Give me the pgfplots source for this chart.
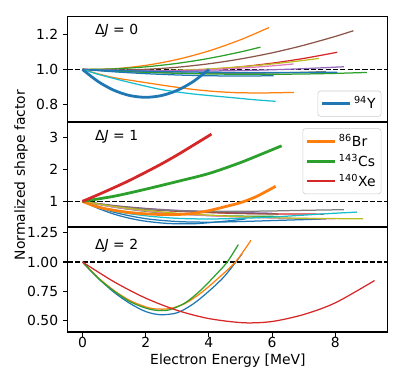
\documentclass[border=0pt]{standalone}
\usepackage{pgfplots}
\pgfplotsset{compat=1.18}
\usepackage{fontspec}
\setmainfont{DejaVu Sans}

\definecolor{tblue}{HTML}{1F77B4}
\definecolor{torange}{HTML}{FF7F0E}
\definecolor{tgreen}{HTML}{2CA02C}
\definecolor{tred}{HTML}{D62728}
\definecolor{tpurple}{HTML}{9467BD}
\definecolor{tbrown}{HTML}{8C564B}
\definecolor{tpink}{HTML}{E377C2}
\definecolor{tgray}{HTML}{7F7F7F}
\definecolor{tolive}{HTML}{BCBD22}
\definecolor{tcyan}{HTML}{17BECF}

\pgfplotsset{
  panel/.style={
    scale only axis, width=230.3pt, height=75.6pt,
    xmin=-0.46, xmax=9.66,
    axis line style={line width=0.8pt},
    tick align=outside, tick pos=left, major tick length=3.5pt,
    every tick/.style={black, line width=0.8pt},
    /pgf/number format/assume math mode=true,
    tick label style={font=\fontsize{10}{12}\selectfont},
    label style={font=\fontsize{10}{12}\selectfont},
    legend style={draw=black!20, rounded corners=2pt, fill=white, fill opacity=0.8,
      text opacity=1, font=\fontsize{10}{12}\selectfont, inner sep=2pt},
    legend cell align=left,
    legend image code/.code={\draw[##1, line width=2pt] (0pt,0pt) -- (20pt,0pt);},
  },
  dashone/.style={black, dash pattern=on 3.7pt off 1.6pt, line width=0.75pt, forget plot},
  thinline/.style={smooth, line width=0.9pt, forget plot},
  thickline/.style={smooth, line width=2pt},
}

\begin{document}
\begin{tikzpicture}
\path[use as bounding box] (-48.9pt,-29.5pt) rectangle (244.1pt,239pt);

% Delta J = 2 (bottom)
\begin{axis}[panel, at={(0,0)},
  ymin=0.40, ymax=1.30,
  ytick={0.5,0.75,1.0,1.25},
  yticklabel style={/pgf/number format/.cd, fixed, fixed zerofill, precision=2},
  xtick={0,2,4,6,8},
  xticklabel style={yshift=3pt},
  xlabel={Electron Energy [MeV]},
  xlabel style={yshift=3pt},
]
\addplot[dashone] coordinates {(-0.46,1) (9.66,1)};
\addplot[thinline, tblue] coordinates {(0,1) (0.5,0.86) (1,0.74) (1.5,0.645) (2,0.575) (2.47,0.548) (3,0.565) (3.5,0.64) (4,0.75) (4.5,0.88) (5.05,1.07)};
\addplot[thinline, torange] coordinates {(0,1) (0.5,0.865) (1,0.755) (1.5,0.67) (2,0.615) (2.3,0.598) (2.75,0.60) (3.25,0.645) (3.75,0.735) (4.25,0.85) (4.84,1.0) (5.33,1.186)};
\addplot[thinline, tgreen] coordinates {(0,1) (0.5,0.86) (1,0.75) (1.5,0.66) (2,0.605) (2.36,0.585) (2.75,0.59) (3.25,0.65) (3.75,0.76) (4.25,0.90) (4.58,1.0) (4.93,1.149)};
\addplot[thinline, tred] coordinates {(0,1) (1,0.83) (2,0.69) (3,0.585) (4,0.515) (5.1,0.479) (6,0.49) (7,0.55) (8,0.65) (9.24,0.841)};
\node[anchor=west, font=\fontsize{10}{12}\selectfont] at (rel axis cs:0.07,0.82) {Δ\textit{J} = 2};
\end{axis}

% Delta J = 1 (middle)
\begin{axis}[panel, at={(0,75.6pt)},
  ymin=0.2, ymax=3.48,
  ytick={1,2,3}, xtick=\empty,
  legend style={at={(0.98,0.94)}, anchor=north east},
]
\addplot[dashone] coordinates {(-0.46,1) (9.66,1)};
\addplot[thinline, tblue] coordinates {(0,1) (0.5,0.78) (1,0.6) (1.5,0.47) (2,0.38) (2.7,0.31) (3.5,0.30) (4.3,0.36) (5.16,0.45)};
\addplot[thinline, tblue] coordinates {(0,1) (1,0.66) (2,0.46) (3,0.37) (4,0.35) (5,0.37) (6,0.40) (7,0.43) (7.7,0.45)};
\addplot[thinline, tgreen] coordinates {(0,1) (1,0.82) (2,0.69) (3,0.61) (4,0.56) (5,0.54) (6.2,0.53)};
\addplot[thinline, tred] coordinates {(0,1) (1,0.85) (2,0.75) (3,0.69) (4,0.65) (5,0.62) (6,0.61) (7.64,0.60)};
\addplot[thinline, tpurple] coordinates {(0,1) (1,0.87) (2,0.78) (3,0.72) (4,0.68) (5,0.65) (6.0,0.63)};
\addplot[thinline, tbrown] coordinates {(0,1) (1,0.86) (2,0.77) (3,0.70) (4,0.66) (5,0.63) (6.2,0.60)};
\addplot[thinline, tpink] coordinates {(0,1) (1,0.82) (2,0.70) (3,0.61) (4,0.55) (5,0.51) (6,0.48) (7,0.465) (8,0.455)};
\addplot[thinline, tgray] coordinates {(0,1) (1,0.85) (2,0.76) (3,0.71) (4,0.69) (5,0.69) (6,0.70) (7,0.72) (8.27,0.74)};
\addplot[thinline, tolive] coordinates {(0,1) (1,0.84) (2,0.72) (3,0.63) (4,0.57) (5,0.52) (6,0.49) (7,0.47) (8.88,0.455)};
\addplot[thinline, tcyan] coordinates {(0,1) (1,0.70) (2,0.55) (3,0.47) (4,0.45) (5,0.47) (6,0.51) (7,0.57) (8,0.63) (8.69,0.665)};
\addplot[thickline, torange] coordinates {(0,1) (0.5,0.82) (1,0.72) (1.5,0.65) (2,0.61) (2.5,0.59) (3,0.59) (3.5,0.62) (4,0.71) (4.5,0.83) (5,0.96) (5.5,1.15) (6.11,1.47)};
\addlegendentry{\textsuperscript{86}Br}
\addplot[thickline, tgreen] coordinates {(0,1) (1,1.16) (2,1.38) (3,1.62) (4,1.87) (4.94,2.19) (5.6,2.45) (6.3,2.735)};
\addlegendentry{\textsuperscript{143}Cs}
\addplot[thickline, tred] coordinates {(0,1) (0.5,1.21) (1,1.43) (1.5,1.66) (2,1.91) (2.5,2.17) (3,2.45) (3.5,2.75) (4.08,3.10)};
\addlegendentry{\textsuperscript{140}Xe}
\node[anchor=west, font=\fontsize{10}{12}\selectfont] at (rel axis cs:0.07,0.855) {Δ\textit{J} = 1};
\end{axis}

% Delta J = 0 (top)
\begin{axis}[panel, at={(0,151.2pt)},
  ymin=0.70, ymax=1.30,
  ytick={0.8,1.0,1.2}, xtick=\empty,
  yticklabel style={/pgf/number format/.cd, fixed, fixed zerofill, precision=1},
  legend style={at={(0.98,0.05)}, anchor=south east},
]
\addplot[dashone] coordinates {(-0.46,1) (9.66,1)};
\addplot[thinline, torange] coordinates {(0,1) (1,1.0041) (2,1.0232) (3,1.0571) (4,1.1058) (5,1.1695) (5.9,1.2395)};
\addplot[thinline, tgreen] coordinates {(0,1) (1,1.0032) (2,1.0148) (3,1.0348) (4,1.0632) (5,1.10) (5.63,1.1275)};
\addplot[thinline, tbrown] coordinates {(0,1) (1,0.9965) (2,1.0007) (3,1.0127) (4,1.0324) (5,1.0599) (6,1.095) (7,1.1381) (8,1.1888) (8.57,1.2212)};
\addplot[thinline, tred] coordinates {(0,1) (1,0.991) (2,0.988) (3,0.991) (4,1.0) (5,1.015) (6,1.036) (7,1.063) (8.06,1.0982)};
\addplot[thinline, tolive] coordinates {(0,1) (1,0.9942) (2,0.9928) (3,0.9958) (4,1.0032) (5,1.015) (6,1.0312) (7,1.0518) (7.48,1.0633)};
\addplot[thinline, tpink] coordinates {(0,1) (1,0.9939) (2,0.9916) (3,0.9931) (4,0.9984) (5,1.0075) (6,1.0204) (6.68,1.0314)};
\addplot[thinline, tpurple] coordinates {(0,1) (1,0.995) (2,0.9918) (3,0.9906) (4,0.9912) (5,0.9938) (6,0.9982) (7,1.0046) (8.27,1.0154)};
\addplot[thinline, tgray] coordinates {(0,1) (1,0.9911) (2,0.9844) (3,0.9799) (4,0.9776) (5,0.9775) (6,0.9796) (7,0.9839) (7.7,0.9882)};
\addplot[thinline, tgreen] coordinates {(0,1) (1,0.9909) (2,0.9836) (3,0.9781) (4,0.9744) (5,0.9725) (6,0.9724) (7,0.9741) (8,0.9776) (9,0.9829)};
\addplot[thinline, tblue] coordinates {(0,1) (1,0.9945) (2,0.99) (3,0.9865) (4,0.984) (5,0.9825) (6,0.982) (7,0.9825) (8.06,0.984)};
\addplot[thinline, tblue] coordinates {(0,1) (1,0.9865) (2,0.976) (3,0.9685) (4,0.964) (5,0.9625) (6.05,0.964)};
\addplot[thinline, torange] coordinates {(0,1) (0.5,0.975) (1,0.953) (1.63,0.935) (2.72,0.905) (3.5,0.886) (4.2,0.874) (4.94,0.867) (5.8,0.866) (6.69,0.869)};
\addplot[thinline, tcyan] coordinates {(0,1) (0.5,0.972) (1,0.948) (1.63,0.92) (2.5,0.885) (3.5,0.86) (4.79,0.838) (5.5,0.826) (6.11,0.818)};
\addplot[thickline, tblue] coordinates {(0,1) (0.5,0.9304) (1,0.8806) (1.5,0.8508) (2,0.8408) (2.5,0.8508) (3,0.8806) (3.5,0.9304) (4,1.0)};
\addlegendentry{\textsuperscript{94}Y}
\node[anchor=west, font=\fontsize{10}{12}\selectfont] at (rel axis cs:0.07,0.87) {Δ\textit{J} = 0};
\end{axis}

\node[rotate=90, font=\fontsize{10}{12}\selectfont] at (-33.8pt,113pt) {Normalized shape factor};
\end{tikzpicture}
\end{document}
